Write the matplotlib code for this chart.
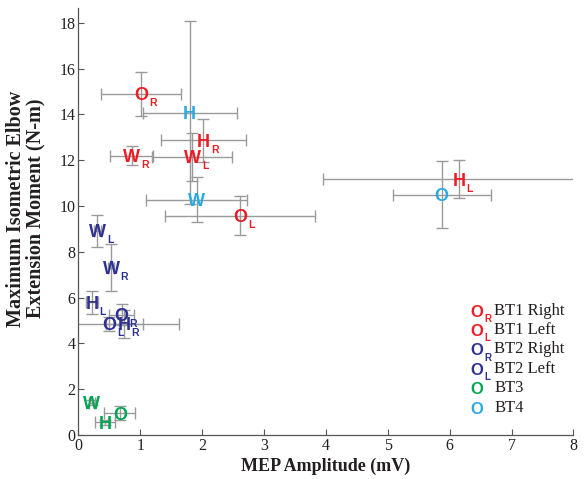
import matplotlib
matplotlib.use("Agg")
import matplotlib.pyplot as plt

# ---- data ----
bt1_letters = ['O', 'O', 'H', 'H', 'W', 'W']
bt1_subs    = ['R', 'L', 'R', 'L', 'R', 'L']
bt1_x    = [1.01, 2.61, 2.02, 6.15, 0.86, 1.84]
bt1_y    = [14.9, 9.58, 12.87, 11.17, 12.2, 12.15]
bt1_xerr = [0.65, 1.21, 0.69, 2.2, 0.35, 0.65]
bt1_yerr = [0.97, 0.84, 0.95, 0.82, 0.42, 1.05]

bt2_letters = ['O', 'O', 'H', 'H', 'W', 'W']
bt2_subs    = ['R', 'L', 'R', 'L', 'R', 'L']
bt2_x    = [0.70, 0.50, 0.74, 0.22, 0.53, 0.31]
bt2_y    = [5.25, 4.85, 4.85, 5.80, 7.30, 8.92]
bt2_xerr = [0.20, 1.12, 0.30, 0.10, 0.05, 0.05]
bt2_yerr = [0.45, 0.30, 0.60, 0.50, 1.03, 0.71]

bt3_letters = ['W', 'H', 'O']
bt3_subs    = ['', '', '']
bt3_x    = [0.22, 0.43, 0.67]
bt3_y    = [1.41, 0.55, 0.95]
bt3_xerr = [0.05, 0.16, 0.25]
bt3_yerr = [0.10, 0.10, 0.30]

bt4_letters = ['H', 'W', 'O']
bt4_subs    = ['', '', '']
bt4_x    = [1.80, 1.91, 5.87]
bt4_y    = [14.07, 10.28, 10.5]
bt4_xerr = [0.76, 0.81, 0.79]
bt4_yerr = [4.0, 0.97, 1.47]

legend_labels = ['BT1 Right', 'BT1 Left', 'BT2 Right', 'BT2 Left', 'BT3', 'BT4']
legend_subs   = ['R', 'L', 'R', 'L', '', '']

RED = '#ED1C24'
DBLUE = '#2E3192'
GREEN = '#00A651'
LBLUE = '#29ABE2'
legend_colors = [RED, RED, DBLUE, DBLUE, GREEN, LBLUE]

x_ticks = list(range(0, 9))
y_ticks = list(range(0, 19, 2))

# ---- figure ----
fig = plt.figure(figsize=(5.87, 4.79), dpi=100)
ax = fig.add_axes([0.1334, 0.0919, 0.8436, 0.8914])
ax.set_xlim(0, 8)
ax.set_ylim(0, 18.65)

SANS = 'Liberation Sans'
SERIF = 'Liberation Serif'
half_w = {'O': 5.0, 'H': 4.6, 'W': 6.1}
LSIZE = 13
SSIZE = 7.5

groups = [
    (bt1_letters, bt1_subs, bt1_x, bt1_y, bt1_xerr, bt1_yerr, RED),
    (bt2_letters, bt2_subs, bt2_x, bt2_y, bt2_xerr, bt2_yerr, DBLUE),
    (bt3_letters, bt3_subs, bt3_x, bt3_y, bt3_xerr, bt3_yerr, GREEN),
    (bt4_letters, bt4_subs, bt4_x, bt4_y, bt4_xerr, bt4_yerr, LBLUE),
]

for letters, subs, xs, ys, xe, ye, col in groups:
    ax.errorbar(xs, ys, xerr=xe, yerr=ye, fmt='none', ecolor='#9a9a9a',
                elinewidth=1.0, capsize=4, capthick=1.0, zorder=1)

for letters, subs, xs, ys, xe, ye, col in groups:
    for L, s, x, y in zip(letters, subs, xs, ys):
        ax.annotate(L, (x, y), xytext=(0, -4.6), textcoords='offset points',
                    ha='center', va='baseline', fontsize=LSIZE,
                    fontweight='bold', family=SANS, color=col, zorder=3)
        if s:
            ax.annotate(s, (x, y), xytext=(half_w[L] + 0.8, -9.0),
                        textcoords='offset points', ha='left', va='baseline',
                        fontsize=SSIZE, fontweight='bold', family=SANS,
                        color=col, zorder=3)

# legend (custom, letter markers)
leg_y = [0.291, 0.246, 0.201, 0.155, 0.110, 0.063]
for lab, s, c, yy in zip(legend_labels, legend_subs, legend_colors, leg_y):
    ax.annotate('O', (0.805, yy), xycoords='axes fraction', xytext=(0, -4.2),
                textcoords='offset points', ha='center', va='baseline',
                fontsize=12, fontweight='bold', family=SANS, color=c)
    if s:
        ax.annotate(s, (0.805, yy), xycoords='axes fraction', xytext=(5.2, -8.2),
                    textcoords='offset points', ha='left', va='baseline',
                    fontsize=7, fontweight='bold', family=SANS, color=c)
    ax.annotate(lab, (0.84, yy), xycoords='axes fraction', xytext=(0, 0),
                textcoords='offset points', ha='left', va='center',
                fontsize=12, family=SERIF, color='#231f20')

# axes styling
for sp in ['top', 'right']:
    ax.spines[sp].set_visible(False)
for sp in ['left', 'bottom']:
    ax.spines[sp].set_color('#555555')
    ax.spines[sp].set_linewidth(0.9)
ax.set_xticks(x_ticks)
ax.set_yticks(y_ticks)
ax.tick_params(direction='in', length=4, width=0.8, color='#555555',
               labelsize=11.5, labelcolor='#231f20', pad=2)
for t in ax.get_xticklabels() + ax.get_yticklabels():
    t.set_fontfamily(SERIF)

ax.set_xlabel('MEP Amplitude (mV)', fontsize=13, fontweight='bold',
              family=SERIF, color='#231f20', labelpad=3)
ax.set_ylabel('Maximum Isometric Elbow\nExtension Moment (N-m)', fontsize=14.5,
              fontweight='bold', family=SERIF, color='#231f20',
              linespacing=0.95)
ax.yaxis.set_label_coords(-0.066, 0.53)

fig.savefig('out.png', dpi=100)
